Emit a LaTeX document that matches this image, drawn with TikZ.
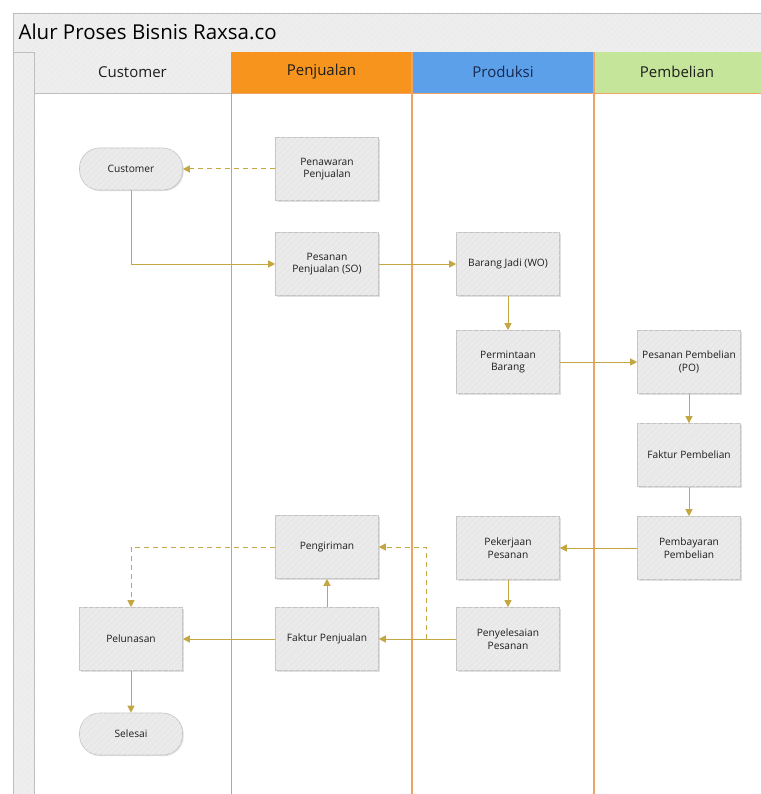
\documentclass[tikz,border=0pt]{standalone}
\usepackage{fontspec}
\setmainfont{Open Sans}
\usetikzlibrary{shadows,arrows.meta,patterns.meta}

\definecolor{flowgold}{RGB}{196,166,66}
\definecolor{boxfill}{RGB}{232,232,232}
\definecolor{boxhatch}{RGB}{244,244,244}
\definecolor{boxline}{RGB}{196,196,196}
\definecolor{framegray}{RGB}{190,190,190}
\definecolor{bandfill}{RGB}{236,236,236}
\definecolor{hdrorange}{RGB}{247,148,29}
\definecolor{hdrblue}{RGB}{91,160,233}
\definecolor{hdrgreen}{RGB}{197,229,154}
\definecolor{lanetan}{RGB}{204,166,90}
\definecolor{laneorange}{RGB}{240,164,100}
\definecolor{textdark}{RGB}{30,30,30}
\definecolor{textnavy}{RGB}{25,40,80}

\tikzset{
  hatched/.style={postaction={pattern={Lines[angle=45,distance=4pt,line width=0.6pt]}, pattern color=boxhatch}},
  procbox/.style={rectangle, draw=boxline, fill=boxfill, line width=0.6pt,
    minimum width=103pt, minimum height=63pt, align=center,
    font=\fontsize{10.2}{12.5}\selectfont, text=textdark, hatched,
    drop shadow={opacity=0.25, shadow xshift=1.2pt, shadow yshift=-1.2pt}},
  termbox/.style={procbox, rounded corners=20pt, minimum height=42pt},
  flow/.style={draw=flowgold, line width=1pt, -{Triangle[length=7pt,width=7pt]}},
  flowdash/.style={flow, dash pattern=on 5pt off 4pt},
  lanehead/.style={font=\fontsize{15}{18}\selectfont, text=textdark}
}

\begin{document}
\begin{tikzpicture}[x=1pt,y=-1pt]
\useasboundingbox (0,0) rectangle (760,794);
\fill[white] (0,0) rectangle (760,794);

% pool frame, title band and left strip
\fill[bandfill, hatched] (13,13) rectangle (762,52);
\fill[bandfill, hatched] (13,52) rectangle (34,796);
\draw[framegray, line width=0.8pt] (13,796) -- (13,13) -- (762,13);
\draw[framegray, line width=0.8pt] (13,52) -- (762,52);
\node[anchor=west, font=\fontsize{20.5}{24}\selectfont, text=black] (title) at (15,32) {Alur Proses Bisnis Raxsa.co};

% lane headers
\fill[bandfill, hatched] (34,52) rectangle (231,93);
\fill[hdrorange] (231,52) rectangle (412,93);
\fill[hdrblue] (412,52) rectangle (594,93);
\fill[hdrgreen] (594,52) rectangle (762,93);
\draw[framegray, line width=0.8pt] (34,52) -- (34,796);
\draw[framegray, line width=0.8pt] (34,93) -- (231,93);
\draw[laneorange, line width=0.8pt] (231,93) -- (762,93);
\node[lanehead] (hcust) at (132.5,72) {Customer};
\node[lanehead] (hjual) at (321.5,72) {Penjualan};
\node[lanehead, text=textnavy] (hprod) at (503,72) {Produksi};
\node[lanehead] (hbeli) at (677,72) {Pembelian};

% lane separators
\draw[lanetan, line width=1pt] (231,93) -- (231,796);
\draw[laneorange, line width=1.2pt] (412,52) -- (412,796);
\draw[laneorange, line width=1.2pt] (594,52) -- (594,796);

% process steps
\node[termbox] (cust) at (131,169) {Customer};
\node[procbox] (tawar) at (327,169) {Penawaran\\Penjualan};
\node[procbox] (so) at (327,264) {Pesanan\\Penjualan (SO)};
\node[procbox] (wo) at (508,264) {Barang Jadi (WO)};
\node[procbox] (minta) at (508,362) {Permintaan\\Barang};
\node[procbox] (po) at (689,362) {Pesanan Pembelian\\(PO)};
\node[procbox] (fbeli) at (689,455) {Faktur Pembelian};
\node[procbox] (bayar) at (689,548) {Pembayaran\\Pembelian};
\node[procbox] (kerja) at (508,548) {Pekerjaan\\Pesanan};
\node[procbox] (tuntas) at (508,639) {Penyelesaian\\Pesanan};
\node[procbox] (kirim) at (327,547) {Pengiriman};
\node[procbox] (fjual) at (327,639) {Faktur Penjualan};
\node[procbox] (lunas) at (131,639) {Pelunasan};
\node[termbox] (selesai) at (131,734) {Selesai};

% connectors
\draw[flowdash] (tawar.west) -- (cust.east);
\draw[flow] (cust.south) |- (so.west);
\draw[flow] (so) -- (wo);
\draw[flow] (wo) -- (minta);
\draw[flow] (minta) -- (po);
\draw[flow] (po) -- (fbeli);
\draw[flow] (fbeli) -- (bayar);
\draw[flow] (bayar) -- (kerja);
\draw[flow] (kerja) -- (tuntas);
\draw[flow] (tuntas) -- (fjual);
\coordinate (split) at (426,639);
\draw[flowdash] (split) |- (kirim.east);
\draw[flow] (fjual) -- (kirim);
\draw[flow] (fjual) -- (lunas);
\draw[flowdash] (kirim.west) -| (lunas.north);
\draw[flow] (lunas) -- (selesai);
\end{tikzpicture}
\end{document}
